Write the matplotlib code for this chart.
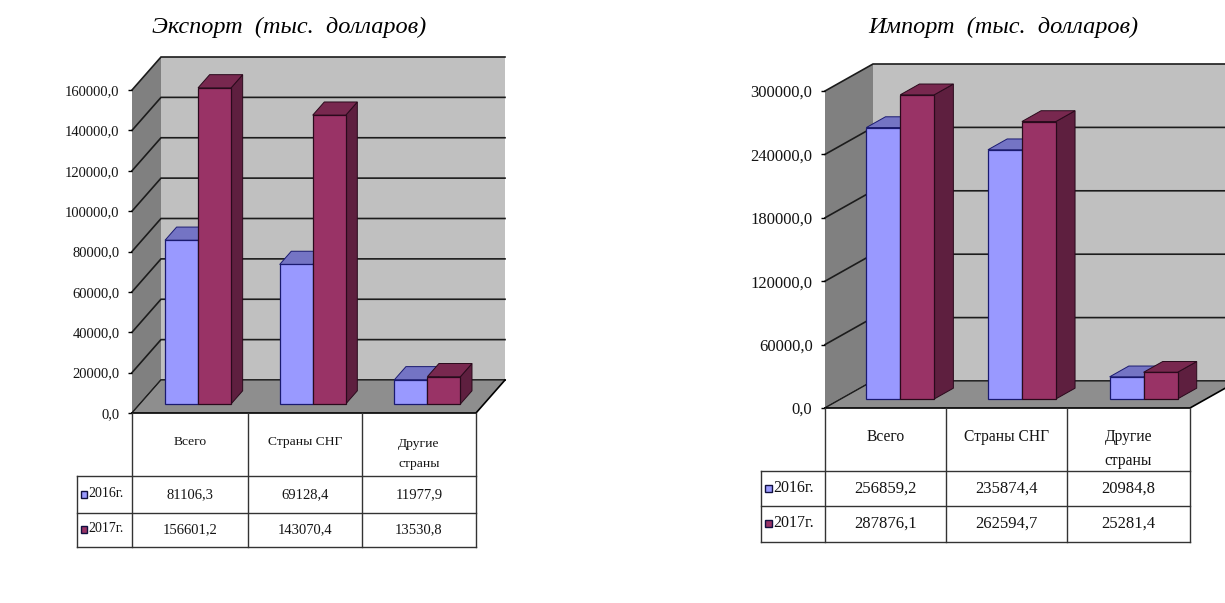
import matplotlib
matplotlib.use("Agg")
import matplotlib.pyplot as plt
from matplotlib.patches import Polygon
from matplotlib.transforms import Affine2D

W, H = 1225, 603
categories = ["Всего", "Страны СНГ", "Другие\nстраны"]
years = ["2016г.", "2017г."]

export_2016 = [81106.3, 69128.4, 11977.9]
export_2017 = [156601.2, 143070.4, 13530.8]
export_ticks = [0, 20000, 40000, 60000, 80000, 100000, 120000, 140000, 160000]

import_2016 = [256859.2, 235874.4, 20984.8]
import_2017 = [287876.1, 262594.7, 25281.4]
import_ticks = [0, 60000, 120000, 180000, 240000, 300000]

C_BLUE = "#9999FF"; C_BLUE_TOP = "#7474C4"; C_BLUE_SIDE = "#5C5CA0"
C_RED = "#993366"; C_RED_TOP = "#78284F"; C_RED_SIDE = "#5E1F3F"
C_BACK = "#C0C0C0"; C_WALL = "#808080"; C_FLOOR = "#8E8E8E"
C_TEXT = "#141414"

plt.rcParams["font.family"] = ["Liberation Serif", "DejaVu Serif"]
fig = plt.figure(figsize=(W / 100, H / 100), dpi=100, facecolor="white")
px = Affine2D().scale(1 / W, -1 / H).translate(0, 1) + fig.transFigure


def draw_chart(title, title_x, title_fs, s1, s2, ticks, L, R, y0, ytop,
               ddx, ddy, bar_w, near, far, bar_bottom_dy, table_x, table_y, fs, key_w, cat_ls):
    ymax = ticks[-1]
    ax = fig.add_axes([L / W, 1 - y0 / H, (R - L) / W, (y0 - ytop) / H])
    ax.set_xlim(0, 3)
    ax.set_ylim(0, ymax)
    ax.patch.set_visible(False)
    for s in ax.spines.values():
        s.set_visible(False)
    ax.set_xticks([])
    ax.set_yticks(ticks)
    ax.set_yticklabels([f"{t:.1f}".replace(".", ",") for t in ticks], fontsize=fs, color=C_TEXT)
    ax.tick_params(axis="y", length=3, width=1, color="black", pad=6)

    ux = 3 / (R - L)               # data units per pixel in x
    uy = ymax / (y0 - ytop)        # data units per pixel in y
    DX, DY = ddx * ux, ddy * uy    # full depth of the box

    def P(pts, fc, ec="none", lw=0.0, z=1):
        ax.add_patch(Polygon(pts, closed=True, fc=fc, ec=ec, lw=lw, zorder=z, clip_on=False))

    # walls and floor
    P([(DX, DY), (3 + DX, DY), (3 + DX, ymax + DY), (DX, ymax + DY)], C_BACK, z=1)
    P([(0, 0), (DX, DY), (DX, ymax + DY), (0, ymax)], C_WALL, z=1)
    P([(0, 0), (3, 0), (3 + DX, DY), (DX, DY)], C_FLOOR, z=1.5)

    for t in ticks:
        ax.plot([0, DX, 3 + DX], [t, t + DY, t + DY], color="#1c1c1c", lw=1.2,
                clip_on=False, zorder=1.2, solid_joinstyle="miter")
    ax.plot([0, DX, 3 + DX], [0, DY, DY], color="#1c1c1c", lw=0.8, clip_on=False, zorder=1.6)
    ax.plot([0, 3, 3 + DX], [0, 0, DY], color="black", lw=1.2, clip_on=False, zorder=1.6)

    # bars
    dz = (far - near)
    bx, by = dz * DX, dz * DY
    sx = near * DX
    b0 = bar_bottom_dy * uy
    for i in range(3):
        c = i + 0.5 + sx
        for j, (v, col, top, side, edge) in enumerate([
            (s1[i], C_BLUE, C_BLUE_TOP, C_BLUE_SIDE, "#1a1a70"),
            (s2[i], C_RED, C_RED_TOP, C_RED_SIDE, "#2a0a1c"),
        ]):
            x0 = c - bar_w if j == 0 else c
            x1 = x0 + bar_w
            z = 3 + i + j * 0.5
            P([(x1, b0), (x1 + bx, b0 + by), (x1 + bx, v + b0 + by), (x1, v + b0)], side, edge, 0.7, z)
            P([(x0, v + b0), (x1, v + b0), (x1 + bx, v + b0 + by), (x0 + bx, v + b0 + by)], top, edge, 0.7, z)
            ax.bar(x0, v, width=bar_w, bottom=b0, align="edge", color=col, edgecolor=edge,
                   linewidth=0.9, zorder=z + 0.1, clip_on=False)

    # title
    fig.text(title_x / W, 1 - 27 / H, title, fontsize=title_fs, style="italic",
             ha="center", va="center", color="black")

    # data table
    xk, x0, x1, x2, x3 = table_x
    y_0, y_1, y_2, y_3 = table_y
    line = dict(transform=px, color="#333333", lw=1.0, clip_on=False, zorder=2)
    for x in (x0, x1, x2, x3):
        ax.plot([x, x], [y_0, y_3], **line)
    ax.plot([xk, xk], [y_1, y_3], **line)
    for y in (y_1, y_2, y_3):
        ax.plot([xk, x3], [y, y], **line)
    centers = [(x0 + x1) / 2, (x1 + x2) / 2, (x2 + x3) / 2]
    for cx, name in zip(centers, categories):
        ax.text(cx, y_0 + 29 if "\n" not in name else y_0 + 41, name, transform=px, fontsize=fs - 0.8,
                ha="center", va="center", color=C_TEXT, linespacing=cat_ls, clip_on=False)
    rows = [(years[0], s1, C_BLUE), (years[1], s2, C_RED)]
    for (yl, vals, col), (ya, yb) in zip(rows, [(y_1, y_2), (y_2, y_3)]):
        ym = (ya + yb) / 2
        ax.add_patch(Polygon([(xk + 4, ym - 4), (xk + 4 + key_w, ym - 4), (xk + 4 + key_w, ym + 3), (xk + 4, ym + 3)],
                             closed=True, fc=col, ec="#101040", lw=1.0, transform=px, clip_on=False, zorder=3))
        ax.text(xk + 5 + key_w, ym - 1, yl, transform=px, fontsize=fs - 0.5, ha="left", va="center",
                color=C_TEXT, clip_on=False)
        for cx, v in zip(centers, vals):
            ax.text(cx, ym, f"{v:.1f}".replace(".", ","), transform=px, fontsize=fs, ha="center",
                    va="center", color=C_TEXT, clip_on=False)


draw_chart("Экспорт  (тыс.  долларов)", 289, 17.5, export_2016, export_2017, export_ticks,
           132, 476, 413, 90, 29, 33, 0.288, 0.30, 0.70, 9,
           (77, 132, 248, 362, 476), (413, 476, 513, 547), 10.5, 6, 2.0)
draw_chart("Импорт  (тыс.  долларов)", 1003, 17.5, import_2016, import_2017, import_ticks,
           825, 1190, 408, 91, 48, 27, 0.279, 0.30, 0.70, 9,
           (761, 825, 946, 1067, 1190), (408, 471, 506, 542), 12, 7, 1.65)

fig.savefig("out.png", dpi=100, facecolor="white")
